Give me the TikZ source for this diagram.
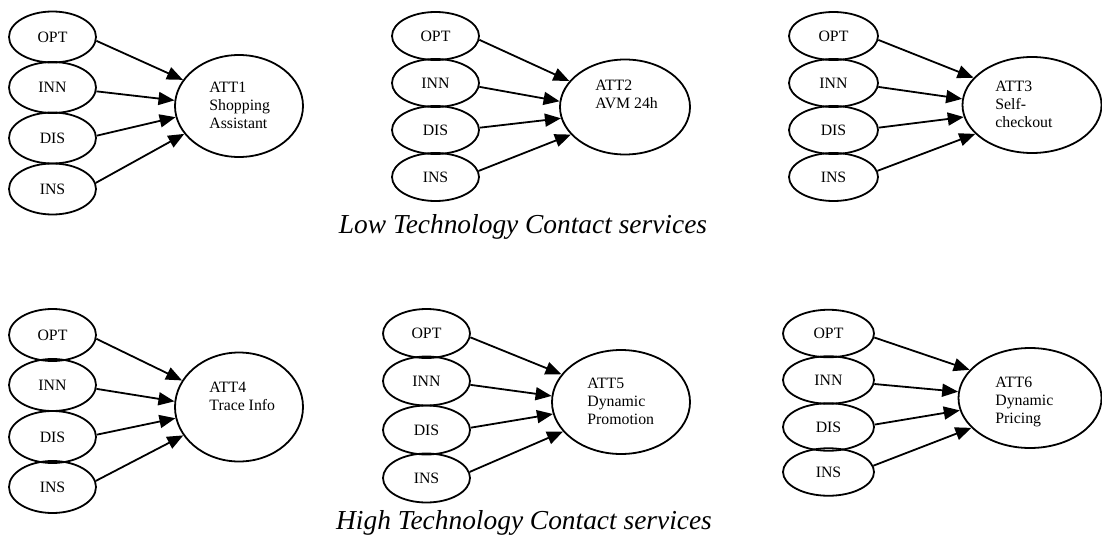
\documentclass[tikz,border=0pt]{standalone}
\usepackage{fontspec}
\setmainfont{Liberation Serif}
\usetikzlibrary{shapes.geometric,arrows.meta}
\begin{document}
\begin{tikzpicture}[x=0.5pt,y=-0.5pt,
  small/.style={draw, ellipse, line width=0.9pt, inner sep=0pt, font=\fontsize{7.9}{9}\selectfont},
  big/.style={draw, ellipse, line width=0.9pt, inner sep=0pt},
  lbl/.style={anchor=north west, inner sep=0pt, align=left, font=\fontsize{7.9}{9}\selectfont},
  arr/.style={-{Triangle[length=8pt,width=6.5pt]}, line width=0.9pt},
  captext/.style={anchor=base, inner sep=0pt, font=\fontsize{13.7}{16}\selectfont\itshape}]
\useasboundingbox (0,0) rectangle (1102,535);
\foreach \i/\sx/\sw/\ya/\yb/\yc/\yd/\sh/\ax/\ay/\aw/\ah/\tx/\ty/\txt in {
  1/52.5/87/37/87.5/138/189/51/239/106/128/102/209/82/{ATT1\\Shopping\\Assistant},
  2/435.5/87/36/83/130/177/48/625/107/130/95/595/80/{ATT2\\AVM 24h},
  3/833.5/89/36/83/130/177/48/1032/105/139/96/995/81/{ATT3\\Self-\\checkout},
  4/52.5/87/335/385/437/487/52/239/407/128/109/209/382/{ATT4\\Trace Info},
  5/426.5/87/333.5/381/430/478/49/621/402/138/104/587/378/{ATT5\\Dynamic\\Promotion},
  6/828.5/91/333.5/380/427/472/47.5/1030/398/143/100/995/377/{ATT6\\Dynamic\\Pricing}}{
  \node[small, minimum width=\sw*0.5pt, minimum height=\sh*0.5pt] (opt\i) at (\sx,\ya) {OPT};
  \node[small, minimum width=\sw*0.5pt, minimum height=\sh*0.5pt] (inn\i) at (\sx,\yb) {INN};
  \node[small, minimum width=\sw*0.5pt, minimum height=\sh*0.5pt] (dis\i) at (\sx,\yc) {DIS};
  \node[small, minimum width=\sw*0.5pt, minimum height=\sh*0.5pt] (ins\i) at (\sx,\yd) {INS};
  \node[big, minimum width=\aw*0.5pt, minimum height=\ah*0.5pt] (att\i) at (\ax,\ay) {};
  \node[lbl] (txt\i) at (\tx,\ty) {\txt};
  \draw[arr] (opt\i.-5) -- (att\i.155);
  \draw[arr] (inn\i.-5) -- (att\i.175);
  \draw[arr] (dis\i.3) -- (att\i.190);
  \draw[arr] (ins\i.8) -- (att\i.207);
}
\node[captext] (lowcap) at (523,233) {Low Technology Contact services};
\node[captext] (highcap) at (524,529) {High Technology Contact services};
\end{tikzpicture}
\end{document}
